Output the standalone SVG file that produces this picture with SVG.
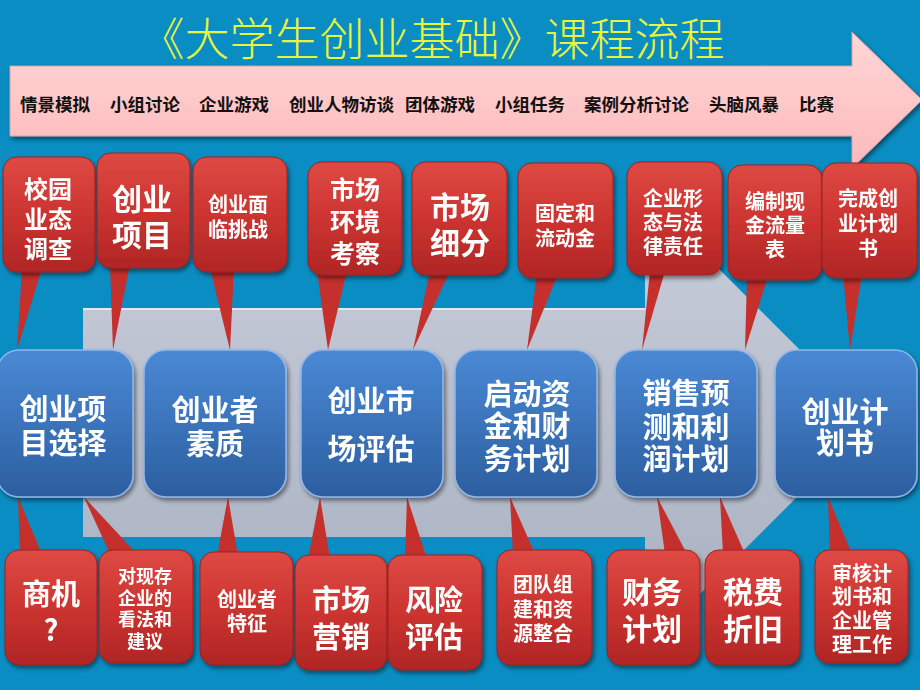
<svg xmlns="http://www.w3.org/2000/svg" width="920" height="690" viewBox="0 0 920 690">
<defs>
<linearGradient id="pinkG" x1="0" y1="0" x2="0" y2="1">
<stop offset="0" stop-color="#ffd6d6"/><stop offset="1" stop-color="#ffb9bb"/>
</linearGradient>
<linearGradient id="grayG" x1="0" y1="0" x2="0" y2="1">
<stop offset="0" stop-color="#c9cedb"/><stop offset="1" stop-color="#a7afbf"/>
</linearGradient>
<linearGradient id="redG" x1="0" y1="0" x2="0" y2="1">
<stop offset="0" stop-color="#de4a44"/><stop offset="0.5" stop-color="#cc3430"/><stop offset="1" stop-color="#b02626"/>
</linearGradient>
<linearGradient id="blueG" x1="0" y1="0" x2="0" y2="1">
<stop offset="0" stop-color="#4a89d6"/><stop offset="1" stop-color="#2c5e9f"/>
</linearGradient>
<filter id="sh" x="-20%" y="-20%" width="140%" height="140%">
<feDropShadow dx="2" dy="3" stdDeviation="2" flood-color="#000" flood-opacity="0.45"/>
</filter>
</defs>
<style>
.cn{font-family:"Noto Sans CJK SC","Liberation Sans",sans-serif;}
.title{font-family:"Noto Sans CJK SC",sans-serif;font-size:45px;fill:#e9f53c;font-weight:300;}
.bar{font-family:"Noto Sans CJK SC",sans-serif;font-size:17.5px;font-weight:bold;fill:#111;}
.w{font-family:"Noto Sans CJK SC",sans-serif;font-weight:bold;fill:#fff;text-anchor:middle;dominant-baseline:central;}
.ptr{fill:#c52f2c;}
.co{fill:url(#redG);stroke:#9e1f1f;stroke-width:1;}
.bx{fill:url(#blueG);stroke:#8fb6ea;stroke-width:1.5;}
</style>
<rect x="0" y="0" width="920" height="690" fill="#0a8dc2"/>

<text class="title" x="432" y="56" text-anchor="middle">《大学生创业基础》课程流程</text>

<g id="topArrow" filter="url(#sh)">
<path d="M10 66 H852 V32 L922 100 L852 168 V136 H10 Z" fill="url(#pinkG)" stroke="#d8a0a2" stroke-width="1"/>
</g>
<g id="methods">
<text class="bar" x="20" y="103" dominant-baseline="central">情景模拟</text>
<text class="bar" x="110" y="103" dominant-baseline="central">小组讨论</text>
<text class="bar" x="199" y="103" dominant-baseline="central">企业游戏</text>
<text class="bar" x="289" y="103" dominant-baseline="central">创业人物访谈</text>
<text class="bar" x="405" y="103" dominant-baseline="central">团体游戏</text>
<text class="bar" x="495" y="103" dominant-baseline="central">小组任务</text>
<text class="bar" x="584" y="103" dominant-baseline="central">案例分析讨论</text>
<text class="bar" x="709" y="103" dominant-baseline="central">头脑风暴</text>
<text class="bar" x="799" y="103" dominant-baseline="central">比赛</text>
</g>

<g id="grayArrow">
<path d="M83 308 H645 V195 L872 422 L645 649 V537 H83 Z" fill="url(#grayG)"/>
<path d="M83 309 H645" stroke="#e4e8f0" stroke-width="2"/>
</g>

<g id="connectors">
<polygon class="ptr" points="22,268 42,268 17,350"/>
<polygon class="ptr" points="110,264 130,264 113,350"/>
<polygon class="ptr" points="210,268 234,268 230,350"/>
<polygon class="ptr" points="317,271 347,271 328,350"/>
<polygon class="ptr" points="430,271 450,271 413,350"/>
<polygon class="ptr" points="537,274 558,274 527,350"/>
<polygon class="ptr" points="650,271 665,271 642,350"/>
<polygon class="ptr" points="747,276 768,276 745,350"/>
<polygon class="ptr" points="843,274 862,274 850,350"/>
<polygon class="ptr" points="20,554 42,554 18,497"/>
<polygon class="ptr" points="110,554 137,554 84,497"/>
<polygon class="ptr" points="217,556 238,556 228,497"/>
<polygon class="ptr" points="308,559 330,559 320,497"/>
<polygon class="ptr" points="405,559 427,559 407,497"/>
<polygon class="ptr" points="513,554 535,554 510,497"/>
<polygon class="ptr" points="665,554 687,554 657,497"/>
<polygon class="ptr" points="723,554 745,554 720,497"/>
<polygon class="ptr" points="830,554 852,554 828,497"/>
</g>

<g id="t1" filter="url(#sh)"><rect class="co" x="3" y="157" width="92" height="115" rx="14"/>
<text class="w" x="48" font-size="24"><tspan x="48" y="187">校园</tspan><tspan x="48" y="217">业态</tspan><tspan x="48" y="247">调查</tspan></text></g>
<g id="t2" filter="url(#sh)"><rect class="co" x="97" y="153" width="93" height="115" rx="14"/>
<text class="w" font-size="30"><tspan x="142" y="197">创业</tspan><tspan x="142" y="233">项目</tspan></text></g>
<g id="t3" filter="url(#sh)"><rect class="co" x="193" y="157" width="94" height="115" rx="14"/>
<text class="w" font-size="20"><tspan x="238" y="203">创业面</tspan><tspan x="238" y="228">临挑战</tspan></text></g>
<g id="t4" filter="url(#sh)"><rect class="co" x="308" y="162" width="94" height="113" rx="14"/>
<text class="w" font-size="25"><tspan x="355" y="188">市场</tspan><tspan x="355" y="220">环境</tspan><tspan x="355" y="252">考察</tspan></text></g>
<g id="t5" filter="url(#sh)"><rect class="co" x="412" y="162" width="95" height="113" rx="14"/>
<text class="w" font-size="30"><tspan x="460" y="205">市场</tspan><tspan x="460" y="241">细分</tspan></text></g>
<g id="t6" filter="url(#sh)"><rect class="co" x="518" y="163" width="95" height="115" rx="14"/>
<text class="w" font-size="20"><tspan x="565" y="212">固定和</tspan><tspan x="565" y="237">流动金</tspan></text></g>
<g id="t7" filter="url(#sh)"><rect class="co" x="627" y="162" width="95" height="113" rx="14"/>
<text class="w" font-size="20"><tspan x="673" y="197">企业形</tspan><tspan x="673" y="221">态与法</tspan><tspan x="673" y="245">律责任</tspan></text></g>
<g id="t8" filter="url(#sh)"><rect class="co" x="728" y="165" width="94" height="115" rx="14"/>
<text class="w" font-size="20"><tspan x="775" y="200">编制现</tspan><tspan x="775" y="224">金流量</tspan><tspan x="775" y="248">表</tspan></text></g>
<g id="t9" filter="url(#sh)"><rect class="co" x="822" y="163" width="95" height="115" rx="14"/>
<text class="w" font-size="20"><tspan x="868" y="197">完成创</tspan><tspan x="868" y="222">业计划</tspan><tspan x="868" y="247">书</tspan></text></g>

<g id="b1" filter="url(#sh)"><rect class="co" x="5" y="550" width="92" height="115" rx="14"/>
<text class="w" font-size="29"><tspan x="51" y="592">商机</tspan><tspan x="51" y="628">?</tspan></text></g>
<g id="b2" filter="url(#sh)"><rect class="co" x="99" y="550" width="94" height="113" rx="14"/>
<text class="w" font-size="18"><tspan x="145" y="575">对现存</tspan><tspan x="145" y="597">企业的</tspan><tspan x="145" y="618">看法和</tspan><tspan x="145" y="640">建议</tspan></text></g>
<g id="b3" filter="url(#sh)"><rect class="co" x="200" y="552" width="93" height="113" rx="14"/>
<text class="w" font-size="20"><tspan x="247" y="598">创业者</tspan><tspan x="247" y="622">特征</tspan></text></g>
<g id="b4" filter="url(#sh)"><rect class="co" x="295" y="555" width="92" height="115" rx="14"/>
<text class="w" font-size="29"><tspan x="341" y="598">市场</tspan><tspan x="341" y="635">营销</tspan></text></g>
<g id="b5" filter="url(#sh)"><rect class="co" x="388" y="555" width="94" height="115" rx="14"/>
<text class="w" font-size="29"><tspan x="434" y="598">风险</tspan><tspan x="434" y="635">评估</tspan></text></g>
<g id="b6" filter="url(#sh)"><rect class="co" x="497" y="550" width="95" height="115" rx="14"/>
<text class="w" font-size="20"><tspan x="543" y="583">团队组</tspan><tspan x="543" y="608">建和资</tspan><tspan x="543" y="632">源整合</tspan></text></g>
<g id="b7" filter="url(#sh)"><rect class="co" x="607" y="550" width="93" height="115" rx="14"/>
<text class="w" font-size="30"><tspan x="652" y="590">财务</tspan><tspan x="652" y="627">计划</tspan></text></g>
<g id="b8" filter="url(#sh)"><rect class="co" x="705" y="550" width="95" height="115" rx="14"/>
<text class="w" font-size="30"><tspan x="753" y="590">税费</tspan><tspan x="753" y="627">折旧</tspan></text></g>
<g id="b9" filter="url(#sh)"><rect class="co" x="815" y="550" width="93" height="113" rx="14"/>
<text class="w" font-size="20"><tspan x="862" y="572">审核计</tspan><tspan x="862" y="595">划书和</tspan><tspan x="862" y="619">企业管</tspan><tspan x="862" y="643">理工作</tspan></text></g>

<g id="s1" filter="url(#sh)"><rect class="bx" x="-3" y="350" width="136" height="147" rx="22"/>
<text class="w" font-size="29"><tspan x="63" y="407">创业项</tspan><tspan x="63" y="441">目选择</tspan></text></g>
<g id="s2" filter="url(#sh)"><rect class="bx" x="144" y="350" width="142" height="147" rx="22"/>
<text class="w" font-size="29"><tspan x="215" y="408">创业者</tspan><tspan x="215" y="442">素质</tspan></text></g>
<g id="s3" filter="url(#sh)"><rect class="bx" x="301" y="350" width="142" height="147" rx="22"/>
<text class="w" font-size="29"><tspan x="371" y="399">创业市</tspan><tspan x="371" y="447">场评估</tspan></text></g>
<g id="s4" filter="url(#sh)"><rect class="bx" x="455" y="350" width="142" height="147" rx="22"/>
<text class="w" font-size="29"><tspan x="527" y="392">启动资</tspan><tspan x="527" y="424">金和财</tspan><tspan x="527" y="457">务计划</tspan></text></g>
<g id="s5" filter="url(#sh)"><rect class="bx" x="615" y="350" width="142" height="147" rx="22"/>
<text class="w" font-size="29"><tspan x="686" y="391">销售预</tspan><tspan x="686" y="425">测和利</tspan><tspan x="686" y="457">润计划</tspan></text></g>
<g id="s6" filter="url(#sh)"><rect class="bx" x="775" y="350" width="142" height="147" rx="22"/>
<text class="w" font-size="29"><tspan x="845" y="410">创业计</tspan><tspan x="845" y="441">划书</tspan></text></g>
</svg>
